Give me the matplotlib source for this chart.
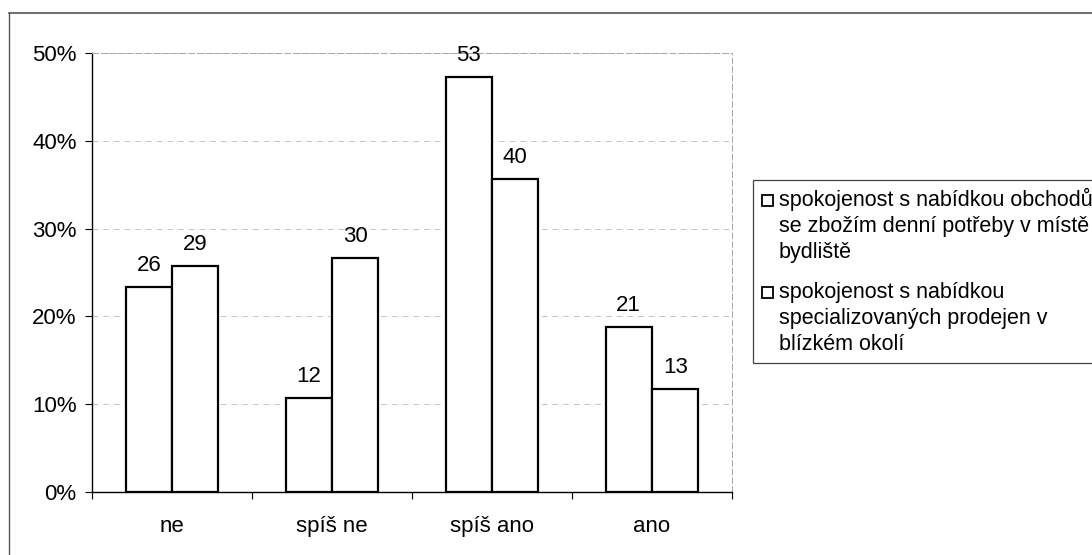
import matplotlib
matplotlib.use("Agg")
import matplotlib.pyplot as plt
from matplotlib.lines import Line2D
from matplotlib.patches import Rectangle
import numpy as np

plt.rcParams['font.family'] = ['Liberation Sans', 'DejaVu Sans']

categories = ["ne", "spíš ne", "spíš ano", "ano"]
series_names = [
    ["spokojenost s nabídkou obchodů", "se zbožím denní potřeby v místě", "bydliště"],
    ["spokojenost s nabídkou", "specializovaných prodejen v", "blízkém okolí"],
]
values_1 = [23.3, 10.7, 47.3, 18.8]
values_2 = [25.7, 26.6, 35.6, 11.7]
labels_1 = ["26", "12", "53", "21"]
labels_2 = ["29", "30", "40", "13"]
yticks = [0, 10, 20, 30, 40, 50]
ytick_labels = ["0%", "10%", "20%", "30%", "40%", "50%"]

W, H = 1092, 555
fig = plt.figure(figsize=(W/100, H/100), dpi=100)
ax = fig.add_axes([92/W, 63/H, 640/W, 439/H])

x = np.arange(len(categories))
w = 0.29
b1 = ax.bar(x - w/2, values_1, w, facecolor="white", edgecolor="black", linewidth=1.6, zorder=3)
b2 = ax.bar(x + w/2, values_2, w, facecolor="white", edgecolor="black", linewidth=1.6, zorder=3)

for bars, labs in ((b1, labels_1), (b2, labels_2)):
    for r, lab in zip(bars, labs):
        ax.annotate(lab, (r.get_x() + r.get_width()/2, r.get_height()),
                    xytext=(0, 8), textcoords="offset points",
                    ha="center", va="bottom", fontsize=16, zorder=4)

ax.set_xlim(-0.5, 3.5)
ax.set_ylim(0, 50)
ax.set_yticks(yticks)
ax.set_yticklabels(ytick_labels, fontsize=16)
ax.set_xticks(x)
ax.set_xticklabels(categories, fontsize=16)
ax.tick_params(axis="x", which="major", length=0, pad=17)
ax.set_xticks(np.arange(-0.5, 4.0, 1.0), minor=True)
ax.tick_params(axis="x", which="minor", length=5, width=0.8, direction="out")
ax.tick_params(axis="y", length=5, width=0.8, direction="out", pad=6)

ax.grid(axis="y", color="#c4c4c4", linestyle=(0, (6, 5)), linewidth=0.7, zorder=0)
for s in ("top", "right"):
    ax.spines[s].set_color("#a8a8a8")
    ax.spines[s].set_linestyle((0, (6, 3)))
    ax.spines[s].set_linewidth(0.7)
ax.spines["left"].set_linewidth(1.0)
ax.spines["bottom"].set_linewidth(1.0)

# legend box (runs past the right edge as in the reference)
def fx(px):
    return px / W

def fy(py):
    return 1 - py / H

fig.add_artist(Rectangle((fx(753), fy(363)), fx(1110) - fx(753), fy(180) - fy(363),
                         transform=fig.transFigure, facecolor="white",
                         edgecolor="#404040", linewidth=0.9, clip_on=False))
entry_tops = [200, 292]
line_step = 26
for top, name in zip(entry_tops, series_names):
    fig.add_artist(Rectangle((fx(762), fy(top + 5.5)), fx(11), 11 / H,
                             transform=fig.transFigure, facecolor="white",
                             edgecolor="black", linewidth=1.3))
    for i, line in enumerate(name):
        fig.text(fx(779), fy(top + 6 + i * line_step), line, fontsize=15.5,
                 ha="left", va="baseline")

# outer frame of the chart area
fig.add_artist(Line2D([fx(9), 1.0], [fy(13), fy(13)], color="#555555", linewidth=1.2,
                      transform=fig.transFigure))
fig.add_artist(Line2D([fx(9), fx(9)], [0, fy(13)], color="#555555", linewidth=1.0,
                      transform=fig.transFigure))

fig.savefig("out.png", dpi=100)
